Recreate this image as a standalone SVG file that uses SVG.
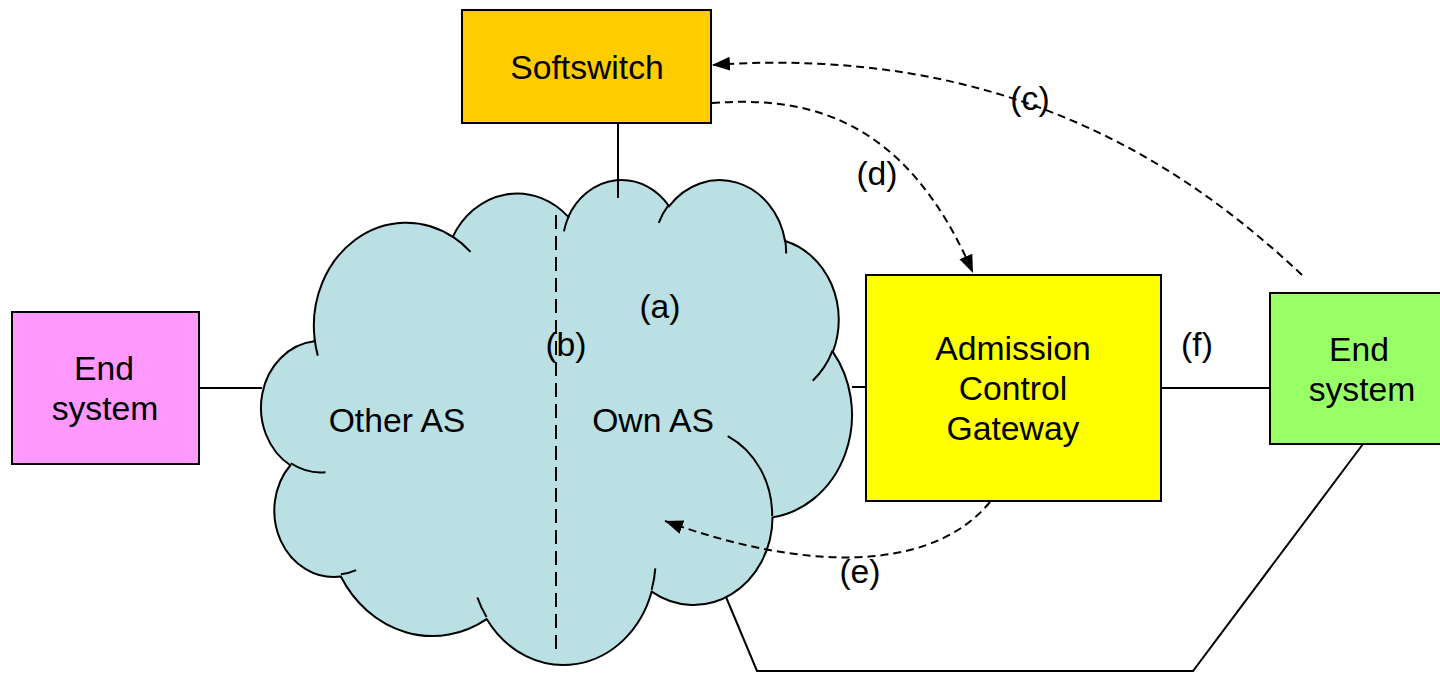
<svg xmlns="http://www.w3.org/2000/svg" width="1440" height="673" viewBox="0 0 1440 673">
  <style>
    .box { stroke: #000; stroke-width: 2; }
    .lbl { font-family: "Liberation Sans", Arial, sans-serif; font-size: 33.7px; fill: #000; text-anchor: middle; }
    .line { fill: none; stroke: #000; stroke-width: 2; }
    .dash { fill: none; stroke: #000; stroke-width: 2; stroke-dasharray: 8 5; }
    .split { fill: none; stroke: #000; stroke-width: 2; stroke-dasharray: 14 7; }
    .cloud { fill: #BAE0E3; stroke: #000; stroke-width: 2; }
    .tail { fill: none; stroke: #000; stroke-width: 2; }
  </style>
  <defs>
    <marker id="arrow" markerUnits="userSpaceOnUse" markerWidth="19" markerHeight="15" refX="18" refY="7" orient="auto">
      <path d="M0,0 L18,7 L0,14 Z" fill="#000"/>
    </marker>
  </defs>

  <rect width="1440" height="673" fill="#fff"/>

  <!-- network cloud: two autonomous systems -->
  <g id="cloud">
    <path class="cloud" d="M314.7,339.7
      A92.27,103.13 0 0 1 452.78,236.81
      A72.87,81.55 0 0 1 568.29,216.94
      A59.64,66.71 0 0 1 669.10,206.26
      A66.37,74.01 0 0 1 785.03,241.00
      A72.87,81.62 0 0 1 832.86,351.92
      A92.57,103.47 0 0 1 772.55,517.38
      A79.05,88.28 0 0 1 651.66,591.57
      A92.26,103.41 0 0 1 486.69,619.11
      A105.49,118.31 0 0 1 340.82,576.55
      A59.58,66.41 0 0 1 290.36,465.24
      A59.37,66.71 0 0 1 314.28,341.31 Z"/>
    <path class="tail" d="M325.54,472.20 A59.37,66.71 0 0 1 290.91,463.24
      M356.07,570.07 A59.58,66.41 0 0 1 340.93,574.35
      M486.57,617.10 A92.26,103.41 0 0 1 477.41,597.52
      M655.30,568.41 A92.26,103.41 0 0 1 651.66,589.83
      M727.75,436.02 A79.05,88.28 0 0 1 772.18,516.10
      M832.54,350.73 A72.87,81.62 0 0 1 812.75,380.76
      M785.07,239.32 A66.37,74.01 0 0 1 786.13,253.50
      M658.73,222.78 A66.37,74.01 0 0 1 668.87,204.70
      M563.94,231.40 A59.64,66.71 0 0 1 568.85,215.81
      M452.71,236.70 A92.27,103.13 0 0 1 470.50,251.86
      M317.80,355.62 A92.27,103.13 0 0 1 314.71,339.71"/>
    <text class="lbl" x="397" y="432">Other AS</text>
    <text class="lbl" x="653" y="432">Own AS</text>
  </g>

  <g id="softswitch">
    <rect class="box" x="462" y="10" width="249" height="113" fill="#FFCC00"/>
    <text class="lbl" x="587" y="79">Softswitch</text>
  </g>

  <g id="end-system-left">
    <rect class="box" x="12" y="312" width="187" height="152" fill="#FF99FF"/>
    <text class="lbl" x="104" y="380">End</text>
    <text class="lbl" x="105" y="420">system</text>
  </g>

  <g id="admission-gateway">
    <rect class="box" x="866" y="275" width="295" height="226" fill="#FFFF00"/>
    <text class="lbl" x="1013" y="360">Admission</text>
    <text class="lbl" x="1013" y="400">Control</text>
    <text class="lbl" x="1013" y="440">Gateway</text>
  </g>

  <g id="end-system-right">
    <rect class="box" x="1270" y="293" width="182" height="151" fill="#99FF66"/>
    <text class="lbl" x="1359" y="361">End</text>
    <text class="lbl" x="1362" y="401">system</text>
  </g>

  <g id="connectors">
    <line class="line" x1="199" y1="388" x2="262" y2="388"/>
    <line class="line" x1="618" y1="123" x2="618" y2="198"/>
    <line class="line" x1="852" y1="387" x2="866" y2="387"/>
    <line class="line" x1="1161" y1="388" x2="1270" y2="388"/>
    <polyline class="line" points="726,597 757,671 1193,671 1363,444"/>
    <line class="split" x1="556" y1="215" x2="556" y2="653"/>
    <path class="dash" d="M1302,275 C1180,160 1000,45 712,65" marker-end="url(#arrow)"/>
    <path class="dash" d="M712,103 C805,96 905,115 973,273" marker-end="url(#arrow)"/>
    <path class="dash" d="M990,502 C930,575 800,570 665,521" marker-end="url(#arrow)"/>
  </g>

  <g id="labels">
    <text class="lbl" x="660" y="318">(a)</text>
    <text class="lbl" x="566" y="356">(b)</text>
    <text class="lbl" x="1030" y="110">(c)</text>
    <text class="lbl" x="877" y="185">(d)</text>
    <text class="lbl" x="860" y="583">(e)</text>
    <text class="lbl" x="1197" y="356">(f)</text>
  </g>
</svg>
